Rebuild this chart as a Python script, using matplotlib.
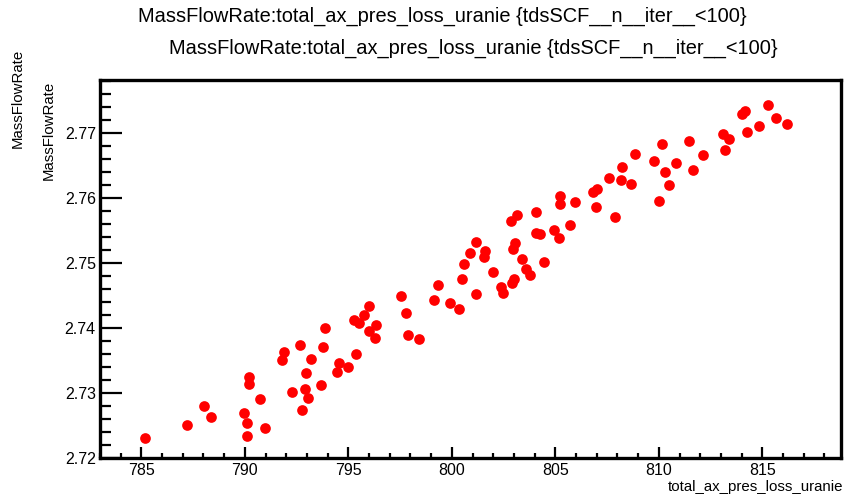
import matplotlib
matplotlib.use("Agg")
import matplotlib.pyplot as plt
from matplotlib.ticker import MultipleLocator

plt.rcParams['font.family'] = ['Liberation Sans', 'DejaVu Sans']

# total_ax_pres_loss_uranie vs MassFlowRate
pres_loss = [
    785.2, 787.2, 788.04, 788.37, 789.98, 790.12, 790.1, 790.2, 790.2, 790.72,
    790.98, 791.79, 791.9, 792.26, 792.67, 792.77, 792.9, 792.95, 793.06, 793.2,
    793.67, 793.8, 793.88, 794.47, 794.53, 794.98,
    795.35, 795.29, 795.53, 795.77, 796.02, 795.98, 796.36, 796.31, 797.53, 797.8,
    797.9, 798.43, 799.13, 799.32, 799.93, 800.33, 800.5, 800.59, 800.88, 801.15,
    801.15, 801.55, 801.62, 801.97, 802.39, 802.48, 802.87, 803.14, 802.96, 803.04,
    802.9, 803.02, 803.39, 803.6, 803.77, 804.08, 804.05, 804.26, 804.45, 804.95,
    805.17, 805.22, 805.24, 805.72, 805.96,
    806.8, 807.0, 806.97, 807.6, 807.87, 808.16, 808.22, 808.67, 808.85, 809.79,
    810.03, 810.16, 810.32, 810.48, 810.83, 811.44, 811.63, 812.13, 813.12, 813.2,
    813.38, 814.0, 814.16, 814.25, 814.82, 815.27, 815.65, 816.17,
]
mass_flow = [
    2.7232, 2.7252, 2.7280, 2.7263, 2.7270, 2.7255, 2.7235, 2.7325, 2.7314, 2.7291,
    2.7247, 2.7351, 2.7364, 2.7302, 2.7374, 2.7275, 2.7307, 2.7331, 2.7292, 2.7353,
    2.7313, 2.7371, 2.7400, 2.7333, 2.7346, 2.7341,
    2.7361, 2.7412, 2.7408, 2.7420, 2.7434, 2.7396, 2.7405, 2.7385, 2.7449, 2.7424,
    2.7390, 2.7383, 2.7443, 2.7466, 2.7438, 2.7429, 2.7476, 2.7498, 2.7515, 2.7533,
    2.7453, 2.7510, 2.7518, 2.7486, 2.7463, 2.7454, 2.7564, 2.7574, 2.7522, 2.7530,
    2.7470, 2.7476, 2.7506, 2.7491, 2.7482, 2.7578, 2.7546, 2.7544, 2.7501, 2.7550,
    2.7539, 2.7603, 2.7590, 2.7558, 2.7594,
    2.7609, 2.7614, 2.7586, 2.7631, 2.7571, 2.7628, 2.7648, 2.7622, 2.7667, 2.7657,
    2.7596, 2.7683, 2.7640, 2.7620, 2.7653, 2.7687, 2.7643, 2.7666, 2.7698, 2.7674,
    2.7691, 2.7729, 2.7733, 2.7701, 2.7710, 2.7743, 2.7722, 2.7713,
]

title = "MassFlowRate:total_ax_pres_loss_uranie {tdsSCF__n__iter__<100}"

fig = plt.figure(figsize=(8.45, 4.94), dpi=100)
ax = fig.add_axes([0.1183, 0.0721, 0.8769, 0.7659])

ax.plot(pres_loss, mass_flow, 'o', color='red', markersize=7.7, markeredgewidth=0)

ax.set_xlim(783.0, 818.8)
ax.set_ylim(2.72, 2.7781)
ax.xaxis.set_major_locator(MultipleLocator(5))
ax.xaxis.set_minor_locator(MultipleLocator(1))
ax.yaxis.set_major_locator(MultipleLocator(0.01))
ax.yaxis.set_minor_locator(MultipleLocator(0.002))
ax.yaxis.set_major_formatter(plt.FormatStrFormatter('%.2f'))

for s in ax.spines.values():
    s.set_linewidth(2.4)
ax.tick_params(which='both', direction='in', top=False, right=False,
               labelsize=11.5, width=1.6, colors='black')
ax.tick_params(axis='y', which='major', length=15.6, pad=3)
ax.tick_params(axis='y', which='minor', length=7.9)
ax.tick_params(axis='x', which='major', length=8, pad=3)
ax.tick_params(axis='x', which='minor', length=3.6)

fig.text(0.524, 0.966, title, ha='center', va='center', fontsize=14.4)
fig.text(0.560, 0.903, title, ha='center', va='center', fontsize=14.4)
fig.text(0.021, 0.80, "MassFlowRate", rotation=90, ha='center', va='center', fontsize=10.8)
fig.text(0.058, 0.737, "MassFlowRate", rotation=90, ha='center', va='center', fontsize=10.8)
fig.text(0.998, 0.015, "total_ax_pres_loss_uranie", ha='right', va='center', fontsize=10.8)

fig.savefig("out.png", dpi=100)
